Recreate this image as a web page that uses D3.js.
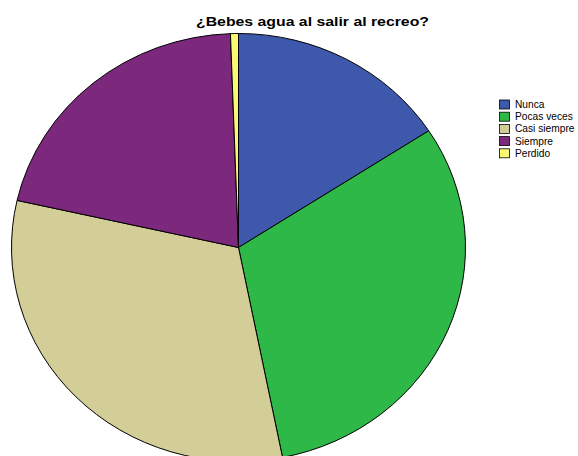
<!DOCTYPE html>
<html>
<head>
<meta charset="utf-8">
<script src="https://cdn.jsdelivr.net/npm/d3@7"></script>
<style>
  html, body { margin: 0; padding: 0; background: #ffffff; }
  svg { display: block; font-family: "Liberation Sans", Arial, sans-serif; }
</style>
</head>
<body>
<svg id="chart" width="578" height="456"></svg>
<script>
// Answers to "¿Bebes agua al salir al recreo?" (counts)
const categories = ["Nunca", "Pocas veces", "Casi siempre", "Siempre", "Perdido"];
const counts = [28, 55, 56, 37, 1];
const colors = ["#3E58AC", "#2EB848", "#D3CE97", "#7C287D", "#FBF873"];

const svg = d3.select("#chart");

// Pie geometry: slightly flattened ellipse
const cx = 238.5, cy = 247.5, rx = 227, ry = 214;

svg.append("text")
  .attr("x", 196).attr("y", 26)
  .attr("font-size", 13.5).attr("font-weight", "bold")
  .attr("textLength", 233)
  .attr("lengthAdjust", "spacingAndGlyphs")
  .attr("fill", "#000")
  .text("¿Bebes agua al salir al recreo?");

const data = categories.map((c, i) => ({ cat: c, value: counts[i], color: colors[i] }));

const pie = d3.pie()
  .value(d => d.value)
  .sort(null)
  .startAngle(0)
  .endAngle(2 * Math.PI);

const arc = d3.arc().innerRadius(0).outerRadius(rx);

const g = svg.append("g")
  .attr("transform", `translate(${cx},${cy}) scale(1,${ry / rx})`);

g.selectAll("path")
  .data(pie(data))
  .join("path")
  .attr("d", arc)
  .attr("fill", d => d.data.color)
  .attr("stroke", "#000")
  .attr("stroke-width", 1)
  .attr("vector-effect", "non-scaling-stroke");

// Legend
const legend = svg.append("g").attr("transform", "translate(499,99.5)");
const rowH = 12.2;
const item = legend.selectAll("g")
  .data(data)
  .join("g")
  .attr("transform", (d, i) => `translate(0,${i * rowH})`);

item.append("rect")
  .attr("x", 0.5).attr("y", 0.5)
  .attr("width", 10).attr("height", 9)
  .attr("fill", d => d.color)
  .attr("stroke", "#000")
  .attr("stroke-width", 0.8);

item.append("text")
  .attr("x", 16).attr("y", 8.5)
  .attr("font-size", 10.2)
  .attr("fill", "#000")
  .text(d => d.cat);
</script>
</body>
</html>
